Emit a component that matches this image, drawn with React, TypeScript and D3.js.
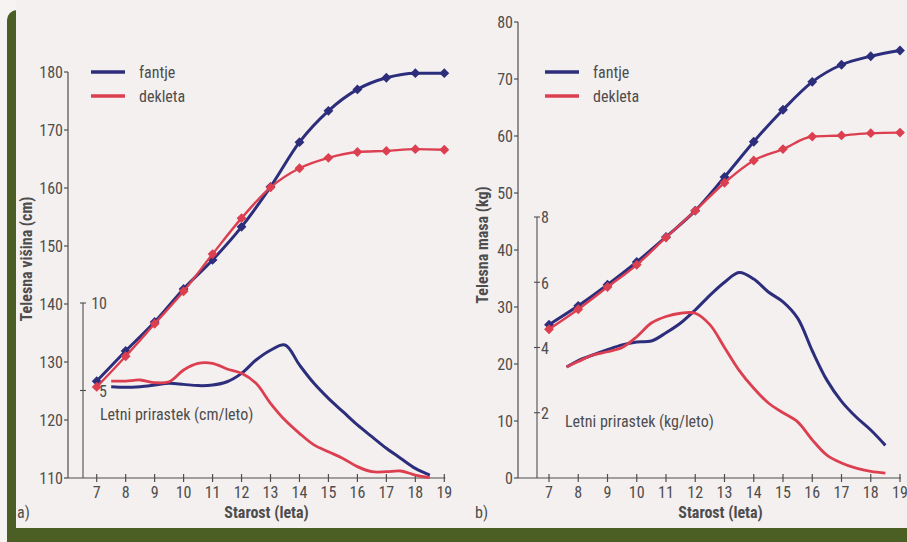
import * as d3 from "d3";
import { useEffect, useRef } from "react";

const WIDTH = 907;
const HEIGHT = 542;

const AGES = [7, 8, 9, 10, 11, 12, 13, 14, 15, 16, 17, 18, 19];
const AGE_TICKS = AGES;

// a) body height (cm)
const HEIGHT_BOYS = [126.7, 131.9, 136.9, 142.6, 147.6, 153.3, 160.2, 167.9, 173.3, 177.0, 179.0, 179.8, 179.8];
const HEIGHT_GIRLS = [125.7, 131.0, 136.6, 142.2, 148.6, 154.8, 160.1, 163.4, 165.2, 166.2, 166.4, 166.7, 166.6];
const HEIGHT_TICKS = [110, 120, 130, 140, 150, 160, 170, 180];

// a) yearly height gain (cm/leto)
const GAIN_CM_AGES = [7.5, 8, 8.5, 9, 9.5, 10, 10.5, 11, 11.5, 12, 12.5, 13, 13.5, 14, 14.5, 15, 15.5, 16, 16.5, 17, 17.5, 18, 18.5];
const GAIN_CM_BOYS = [5.22, 5.18, 5.22, 5.31, 5.41, 5.35, 5.28, 5.31, 5.5, 5.98, 6.74, 7.3, 7.6, 6.46, 5.41, 4.55, 3.79, 3.03, 2.36, 1.7, 1.12, 0.55, 0.17];
const GAIN_CM_GIRLS = [5.54, 5.54, 5.6, 5.45, 5.5, 6.17, 6.55, 6.55, 6.23, 5.98, 5.41, 4.27, 3.31, 2.55, 1.89, 1.5, 1.12, 0.65, 0.36, 0.36, 0.4, 0.17, 0.02];
const GAIN_CM_TICKS = [5, 10];

// b) body mass (kg)
const MASS_BOYS = [26.9, 30.2, 33.9, 37.9, 42.3, 46.9, 52.8, 59.0, 64.6, 69.5, 72.5, 74.0, 75.0];
const MASS_GIRLS = [26.1, 29.6, 33.5, 37.4, 42.2, 46.9, 51.8, 55.7, 57.7, 59.9, 60.1, 60.5, 60.6];
const MASS_TICKS = [0, 10, 20, 30, 40, 50, 60, 70, 80];

// b) yearly mass gain (kg/leto)
const GAIN_KG_AGES = [7.6, 8, 8.5, 9, 9.5, 10, 10.5, 11, 11.5, 12, 12.5, 13, 13.5, 14, 14.5, 15, 15.5, 16, 16.5, 17, 17.5, 18, 18.5];
const GAIN_KG_BOYS = [3.4, 3.6, 3.77, 3.93, 4.08, 4.17, 4.2, 4.45, 4.75, 5.15, 5.6, 6.0, 6.3, 6.1, 5.7, 5.4, 4.9, 3.9, 3.0, 2.35, 1.87, 1.47, 1.0];
const GAIN_KG_GIRLS = [3.4, 3.57, 3.77, 3.87, 4.0, 4.33, 4.75, 4.95, 5.05, 5.05, 4.7, 4.0, 3.3, 2.75, 2.3, 2.0, 1.72, 1.17, 0.7, 0.46, 0.3, 0.2, 0.15];
const GAIN_KG_TICKS = [2, 4, 6, 8];

const SERIES_LABELS = ["fantje", "dekleta"];
const BLUE = "#2c2e7c";
const RED = "#db3f50";
const INK = "#4d4d4d";
const FONT = "'Liberation Sans Narrow', 'Roboto Condensed', Roboto, sans-serif";

type G = d3.Selection<SVGGElement, unknown, null, undefined>;

interface PanelSpec {
  letter: string;
  yTitle: string;
  gainLabel: string;
  // layout (pixels)
  axisX: number;
  xRange: [number, number];
  yDomain: [number, number];
  yRange: [number, number];
  yTicks: number[];
  gainDomain: [number, number];
  gainTop: number;
  gainTicks: number[];
  gainAxisX: number;
  gainLabelRight: number;
  boys: number[];
  girls: number[];
  gainAges: number[];
  gainBoys: number[];
  gainGirls: number[];
  legendX: number;
  gainLabelPos: [number, number];
  titleX: number;
  titleY: number;
  letterX: number;
}

const PANELS: PanelSpec[] = [
  {
    letter: "a)",
    yTitle: "Telesna višina (cm)",
    gainLabel: "Letni prirastek (cm/leto)",
    axisX: 68,
    xRange: [96.7, 444.3],
    yDomain: [110, 180],
    yRange: [478, 72],
    yTicks: HEIGHT_TICKS,
    gainDomain: [0, 10],
    gainTop: 303,
    gainTicks: GAIN_CM_TICKS,
    gainAxisX: 83,
    gainLabelRight: 107,
    boys: HEIGHT_BOYS,
    girls: HEIGHT_GIRLS,
    gainAges: GAIN_CM_AGES,
    gainBoys: GAIN_CM_BOYS,
    gainGirls: GAIN_CM_GIRLS,
    legendX: 91,
    gainLabelPos: [100, 420],
    titleX: 32,
    titleY: 259,
    letterX: 17,
  },
  {
    letter: "b)",
    yTitle: "Telesna masa (kg)",
    gainLabel: "Letni prirastek (kg/leto)",
    axisX: 518,
    xRange: [549, 900],
    yDomain: [0, 80],
    yRange: [478, 22],
    yTicks: MASS_TICKS,
    gainDomain: [0, 8],
    gainTop: 217,
    gainTicks: GAIN_KG_TICKS,
    gainAxisX: 537,
    gainLabelRight: 549,
    boys: MASS_BOYS,
    girls: MASS_GIRLS,
    gainAges: GAIN_KG_AGES,
    gainBoys: GAIN_KG_BOYS,
    gainGirls: GAIN_KG_GIRLS,
    legendX: 545,
    gainLabelPos: [565, 427],
    titleX: 488,
    titleY: 245,
    letterX: 475,
  },
];

function drawFrame(svg: d3.Selection<SVGSVGElement, unknown, null, undefined>): void {
  svg.append("rect").attr("width", WIDTH).attr("height", HEIGHT).attr("fill", "#f7f3f3");
  svg
    .append("rect")
    .attr("x", 7)
    .attr("y", 10)
    .attr("width", WIDTH + 20)
    .attr("height", HEIGHT)
    .attr("rx", 10)
    .attr("fill", "#4b5e24");
  svg
    .append("rect")
    .attr("x", 16)
    .attr("y", 0)
    .attr("width", WIDTH)
    .attr("height", 528)
    .attr("fill", "#f5f0f0");
}

function drawPanel(g: G, p: PanelSpec): void {
  const x = d3.scaleLinear().domain([7, 19]).range(p.xRange);
  const y = d3.scaleLinear().domain(p.yDomain).range(p.yRange);
  const yg = d3.scaleLinear().domain(p.gainDomain).range([p.yRange[0], p.gainTop]);
  const base = p.yRange[0];

  // main axes
  g.append("line")
    .attr("x1", p.axisX).attr("x2", p.axisX)
    .attr("y1", p.yRange[1]).attr("y2", base)
    .attr("stroke", INK).attr("stroke-width", 1.2);
  g.append("line")
    .attr("x1", p.axisX).attr("x2", p.xRange[1] + 1)
    .attr("y1", base).attr("y2", base)
    .attr("stroke", INK).attr("stroke-width", 1.2);

  const yAxis = g.append("g");
  yAxis.selectAll("line").data(p.yTicks).join("line")
    .attr("x1", p.axisX - 4).attr("x2", p.axisX)
    .attr("y1", (d) => y(d)).attr("y2", (d) => y(d))
    .attr("stroke", INK).attr("stroke-width", 1.2);
  yAxis.selectAll("text").data(p.yTicks).join("text")
    .attr("x", p.axisX - 5).attr("y", (d) => y(d))
    .attr("dy", "0.36em").attr("text-anchor", "end")
    .attr("font-size", 16).attr("fill", INK)
    .text((d) => d);

  const xAxis = g.append("g");
  xAxis.selectAll("line").data(AGE_TICKS).join("line")
    .attr("x1", (d) => x(d)).attr("x2", (d) => x(d))
    .attr("y1", base - 4).attr("y2", base + 4)
    .attr("stroke", INK).attr("stroke-width", 1.2);
  xAxis.selectAll("text").data(AGE_TICKS).join("text")
    .attr("x", (d) => x(d)).attr("y", base + 20)
    .attr("text-anchor", "middle")
    .attr("font-size", 16).attr("fill", INK)
    .text((d) => d);

  // inset axis for yearly gain
  g.append("line")
    .attr("x1", p.gainAxisX).attr("x2", p.gainAxisX)
    .attr("y1", p.gainTop).attr("y2", base)
    .attr("stroke", INK).attr("stroke-width", 1.1);
  const gAxis = g.append("g");
  gAxis.selectAll("line").data(p.gainTicks).join("line")
    .attr("x1", p.gainAxisX - 3).attr("x2", p.gainAxisX + 3)
    .attr("y1", (d) => yg(d)).attr("y2", (d) => yg(d))
    .attr("stroke", INK).attr("stroke-width", 1.1);
  gAxis.selectAll("text").data(p.gainTicks).join("text")
    .attr("x", p.gainLabelRight).attr("y", (d) => yg(d))
    .attr("dy", "0.4em").attr("text-anchor", "end")
    .attr("font-size", 16).attr("fill", INK)
    .text((d) => d);

  // gain curves
  const gainLine = d3.line<number>()
    .x((_, i) => x(p.gainAges[i]))
    .y((d) => yg(d))
    .curve(d3.curveCatmullRom.alpha(0.5));
  g.append("path").attr("d", gainLine(p.gainBoys) ?? "")
    .attr("fill", "none").attr("stroke", BLUE).attr("stroke-width", 3);
  g.append("path").attr("d", gainLine(p.gainGirls) ?? "")
    .attr("fill", "none").attr("stroke", RED).attr("stroke-width", 2.8);

  // main series
  const mainLine = d3.line<number>()
    .x((_, i) => x(AGES[i]))
    .y((d) => y(d))
    .curve(d3.curveMonotoneX);
  const diamond = d3.symbol(d3.symbolDiamond2, 62);
  [
    { values: p.boys, color: BLUE, width: 3 },
    { values: p.girls, color: RED, width: 2.4 },
  ].forEach((s) => {
    g.append("path").attr("d", mainLine(s.values) ?? "")
      .attr("fill", "none").attr("stroke", s.color).attr("stroke-width", s.width);
    g.append("g").selectAll("path").data(s.values).join("path")
      .attr("d", diamond() ?? "")
      .attr("transform", (d, i) => `translate(${x(AGES[i])},${y(d)})`)
      .attr("fill", s.color);
  });

  // legend
  [BLUE, RED].forEach((color, i) => {
    const ly = 72 + i * 24;
    g.append("line")
      .attr("x1", p.legendX).attr("x2", p.legendX + 34)
      .attr("y1", ly).attr("y2", ly)
      .attr("stroke", color).attr("stroke-width", 3.5);
    g.append("text")
      .attr("x", p.legendX + 48).attr("y", ly).attr("dy", "0.35em")
      .attr("font-size", 16).attr("fill", INK)
      .text(SERIES_LABELS[i]);
  });

  // labels
  g.append("text")
    .attr("x", p.gainLabelPos[0]).attr("y", p.gainLabelPos[1])
    .attr("font-size", 16).attr("fill", INK)
    .text(p.gainLabel);
  g.append("text")
    .attr("transform", `translate(${p.titleX},${p.titleY}) rotate(-90)`)
    .attr("text-anchor", "middle")
    .attr("font-size", 16).attr("font-weight", "bold").attr("fill", INK)
    .text(p.yTitle);
  g.append("text")
    .attr("x", (p.xRange[0] + p.xRange[1]) / 2 - 4).attr("y", 518)
    .attr("text-anchor", "middle")
    .attr("font-size", 16).attr("font-weight", "bold").attr("fill", INK)
    .text("Starost (leta)");
  g.append("text")
    .attr("x", p.letterX).attr("y", 518)
    .attr("font-size", 16).attr("fill", INK)
    .text(p.letter);
}

export default function App() {
  const ref = useRef<SVGSVGElement>(null);

  useEffect(() => {
    const svg = d3.select(ref.current as SVGSVGElement);
    svg.selectAll("*").remove();
    drawFrame(svg);
    const root = svg.append("g").attr("font-family", FONT);
    PANELS.forEach((p) => drawPanel(root.append("g"), p));
  }, []);

  return (
    <div style={{ position: "absolute", left: 0, top: 0 }}>
      <svg ref={ref} width={WIDTH} height={HEIGHT} viewBox={`0 0 ${WIDTH} ${HEIGHT}`} style={{ display: "block" }} />
    </div>
  );
}
